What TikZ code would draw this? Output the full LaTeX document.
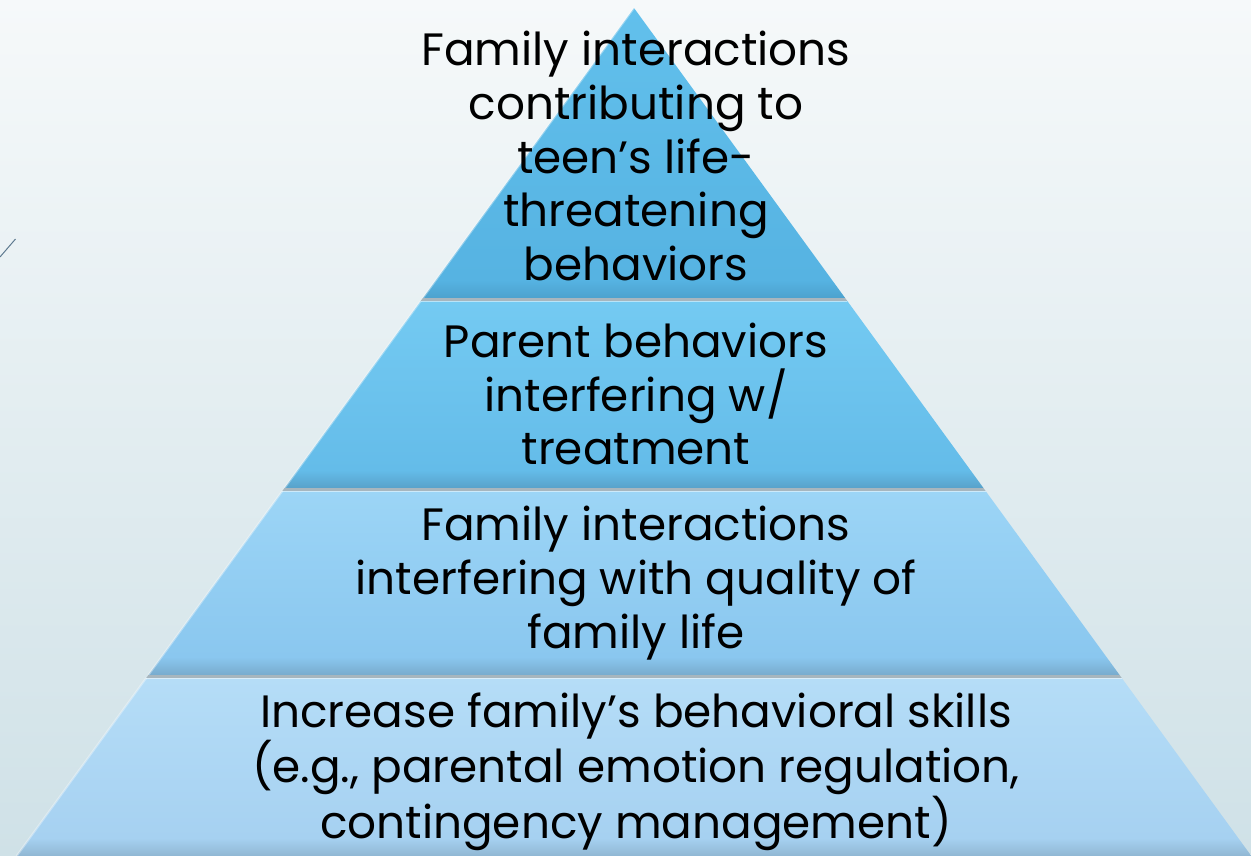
\documentclass[tikz,border=0pt]{standalone}
\usepackage{fontspec}
\setmainfont{Poppins}

\definecolor{bgtop}{HTML}{F6F9FA}
\definecolor{bgbot}{HTML}{CFE1E7}
\definecolor{gapgray}{HTML}{A7B6BE}
\definecolor{rimline}{HTML}{5E7A90}

\begin{document}
\begin{tikzpicture}[x=1bp,y=-1bp]
\shade[top color=bgtop,bottom color=bgbot] (0,0) rectangle (1251,856);
\useasboundingbox (0,0) rectangle (1251,856);

% small stroke at the left margin
\draw[rimline,line width=1pt] (0,257) -- (15.5,239);

% pyramid tiers: top y / bottom y / light / mid / dark
\foreach \yt/\yb/\ca/\cb/\cc in {
    8/298/62C0EC/56B3E2/4CA2CE,
    301/488/74CAF2/64BCE9/58A2CA,
    491/675/9CD5F6/8AC7EF/78ABCD,
    678/856/B5DDF7/A6D1F1/90B7D3}{
  \pgfmathsetmacro\xtl{634-0.728*(\yt-8)}
  \pgfmathsetmacro\xtr{634+0.728*(\yt-8)}
  \pgfmathsetmacro\xbl{634-0.728*(\yb-8)}
  \pgfmathsetmacro\xbr{634+0.728*(\yb-8)}
  \pgfmathsetmacro\ym{\yb-18}
  \pgfmathsetmacro\xml{634-0.728*(\ym-8)}
  \pgfmathsetmacro\xmr{634+0.728*(\ym-8)}
  \definecolor{ca}{HTML}{\ca}
  \definecolor{cb}{HTML}{\cb}
  \definecolor{cc}{HTML}{\cc}
  \shade[top color=ca,bottom color=cb]
    (\xtl,\yt) -- (\xtr,\yt) -- (\xmr,\ym) -- (\xml,\ym) -- cycle;
  \shade[top color=cb,bottom color=cc]
    (\xml,\ym) -- (\xmr,\ym) -- (\xbr,\yb) -- (\xbl,\yb) -- cycle;
  \draw[white,opacity=0.35,line width=2pt] (\xtl,\yt) -- (\xbl,\yb);
  \draw[white,opacity=0.5,line width=1pt] (\xtl,\yt) -- (\xtr,\yt);
  \fill[gapgray] (\xbl,\yb) -- (\xbr,\yb) -- ++(2.2,3) -- ([xshift=-2.2]\xbl,\yb+3) -- cycle;
}

\begin{scope}[every node/.style={align=center,text=black,
    font=\fontsize{45.5}{54}\selectfont}]
    \node (tier1) at (636,156) {Family interactions\\contributing to\\teen’s life-\\threatening\\behaviors};
    \node (tier2) at (636,394) {Parent behaviors\\interfering w/\\treatment};
    \node (tier3) at (636,583) {Family interactions\\interfering with quality of\\family life};
    \node (tier4) at (636,772) {Increase family’s behavioral skills\\(e.g., parental emotion regulation,\\contingency management)};
\end{scope}
\end{tikzpicture}
\end{document}
